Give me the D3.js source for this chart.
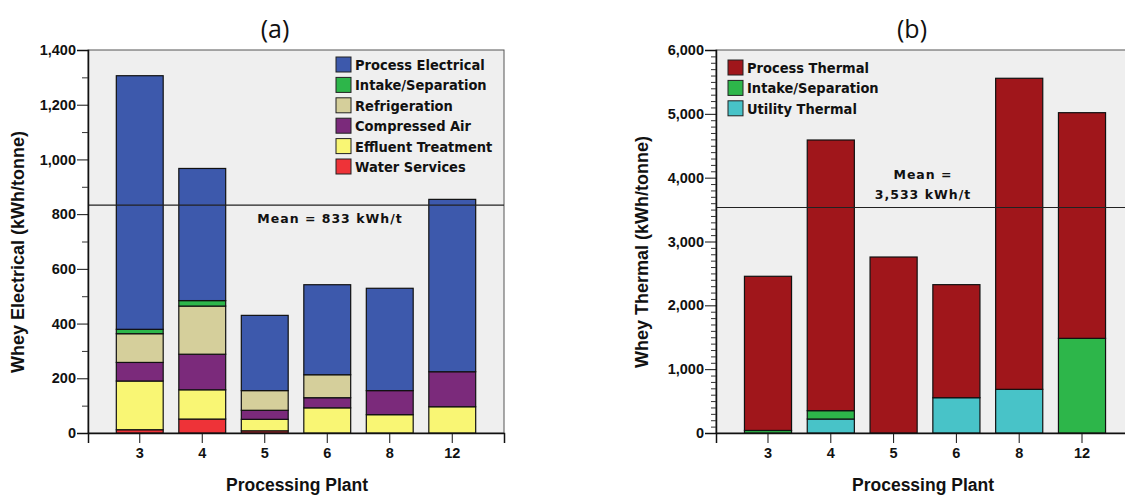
<!DOCTYPE html>
<html>
<head>
<meta charset="utf-8">
<script src="https://cdn.jsdelivr.net/npm/d3@7/dist/d3.min.js"></script>
<style>
  body { margin: 0; background: #fff; }
  svg { display: block; }
</style>
</head>
<body>
<svg id="chart" width="1125" height="495"></svg>
<script>
// plants on the x axis
const plants = ['3', '4', '5', '6', '8', '12'];

// (a) electrical, stacked bottom -> top
const elecKeys = ['Water Services', 'Effluent Treatment', 'Compressed Air', 'Refrigeration', 'Intake/Separation', 'Process Electrical'];
const elecColors = ['#ee3338', '#f9f674', '#7b2a7b', '#d5cf9b', '#2db64a', '#3d59ac'];
const waterServices     = [12, 51, 8, 0, 0, 0];
const effluentTreatment = [178, 107, 42, 92, 67, 96];
const compressedAir     = [68, 130, 33, 37, 88, 128];
const refrigeration     = [105, 176, 72, 84, 0, 0];
const intakeElec        = [16, 20, 0, 0, 0, 0];
const processElectrical = [927, 483, 275, 329, 374, 630];
const elecMean = 833;

// (b) thermal, stacked bottom -> top
const thermKeys = ['Utility Thermal', 'Intake/Separation', 'Process Thermal'];
const thermColors = ['#48c3c8', '#2db64a', '#a0161b'];
const utilityThermal = [0, 219, 0, 553, 684, 0];
const intakeTherm    = [40, 131, 0, 0, 0, 1483];
const processThermal = [2415, 4240, 2757, 1771, 4873, 3535];
const thermMean = 3533;

const ARIAL = '"Liberation Sans", Arial, Helvetica, sans-serif';
const TAHOMA = '"DejaVu Sans Condensed", "DejaVu Sans", sans-serif';

const svg = d3.select('#chart');

function buildRows(series, keys) {
  return plants.map((p, i) => {
    const row = { plant: p };
    keys.forEach((k, j) => { row[k] = series[j][i]; });
    return row;
  });
}

function styleTicks(sel) {
  sel.selectAll('.tick text')
    .style('font-family', ARIAL)
    .style('font-weight', 'bold')
    .style('font-size', '14.5px')
    .attr('fill', '#111');
}

function drawPanel(opts) {
  const { left, right, top, bottom, yMax, majorStep, minorStep, rows, keys, colors,
          legendOrder, legendX, legendY, title, titleX, yTitle, mean, meanLines, meanX, meanY } = opts;

  const g = svg.append('g');

  const x = d3.scaleBand()
    .domain(plants)
    .range([left, right])
    .paddingInner(0.25)
    .paddingOuter(0.453);

  const y = d3.scaleLinear().domain([0, yMax]).range([bottom, top]);

  // plot background
  g.append('rect')
    .attr('x', left).attr('y', top)
    .attr('width', right - left).attr('height', bottom - top)
    .attr('fill', '#efefef')
    .attr('stroke', '#555').attr('stroke-width', 1);

  // stacked bars
  const stacked = d3.stack().keys(keys)(rows);
  const color = d3.scaleOrdinal().domain(keys).range(colors);

  g.selectAll('g.layer')
    .data(stacked)
    .join('g')
    .attr('class', 'layer')
    .attr('fill', d => color(d.key))
    .selectAll('rect')
    .data(d => d.filter(s => s[1] - s[0] > 0))
    .join('rect')
    .attr('x', d => x(d.data.plant))
    .attr('width', x.bandwidth())
    .attr('y', d => y(d[1]))
    .attr('height', d => y(d[0]) - y(d[1]))
    .attr('stroke', '#111')
    .attr('stroke-width', 1.2);

  // mean line
  g.append('line')
    .attr('x1', left).attr('x2', right)
    .attr('y1', y(mean)).attr('y2', y(mean))
    .attr('stroke', '#222').attr('stroke-width', 1.2);

  g.append('text')
    .attr('x', meanX).attr('y', meanY)
    .attr('text-anchor', 'middle')
    .style('font-family', '"DejaVu Sans", Verdana, sans-serif')
    .style('font-weight', 'bold')
    .style('font-size', '12.5px')
    .style('letter-spacing', '1px')
    .attr('fill', '#111')
    .selectAll('tspan')
    .data(meanLines)
    .join('tspan')
    .attr('x', meanX)
    .attr('dy', (d, i) => i === 0 ? 0 : 20)
    .text(d => d);

  // y axis: major labelled ticks and minor ticks
  const yAxis = d3.axisLeft(y)
    .tickValues(d3.range(0, yMax + 1, majorStep))
    .tickFormat(d3.format(','))
    .tickSize(11)
    .tickPadding(1);
  const ya = g.append('g').attr('transform', `translate(${left},0)`).call(yAxis);
  ya.select('.domain').attr('stroke', '#111').attr('stroke-width', 1.5);
  ya.selectAll('.tick line').attr('stroke', '#111');
  styleTicks(ya);

  const minors = d3.range(0, yMax + 1, minorStep).filter(v => v % majorStep !== 0);
  g.append('g')
    .attr('transform', `translate(${left},0)`)
    .call(d3.axisLeft(y).tickValues(minors).tickFormat('').tickSize(majorStep === 1000 ? 5 : 6))
    .call(s => s.select('.domain').remove())
    .selectAll('.tick line').attr('stroke', '#333');

  // x axis
  const xa = g.append('g')
    .attr('transform', `translate(0,${bottom})`)
    .call(d3.axisBottom(x).tickSize(10).tickPadding(5));
  xa.select('.domain').attr('stroke', '#111').attr('stroke-width', 1.5);
  xa.selectAll('.tick line').attr('stroke', '#111');
  styleTicks(xa);

  // axis titles
  g.append('text')
    .attr('x', opts.xTitleX)
    .attr('y', 491)
    .attr('text-anchor', 'middle')
    .style('font-family', ARIAL)
    .style('font-weight', 'bold')
    .style('font-size', '17.5px')
    .attr('fill', '#111')
    .text('Processing Plant');

  g.append('text')
    .attr('transform', `translate(${opts.yTitleX},252) rotate(-90)`)
    .attr('text-anchor', 'middle')
    .style('font-family', ARIAL)
    .style('font-weight', 'bold')
    .style('font-size', '18px')
    .attr('fill', '#111')
    .text(yTitle);

  // panel title
  g.append('text')
    .attr('x', titleX).attr('y', 38)
    .attr('text-anchor', 'middle')
    .style('font-family', '"Open Sans", "Noto Sans", sans-serif')
    .style('font-size', '25px')
    .attr('fill', '#111')
    .text(title);

  // legend
  const lg = g.append('g').attr('transform', `translate(${legendX},${legendY})`);
  const items = lg.selectAll('g')
    .data(legendOrder)
    .join('g')
    .attr('transform', (d, i) => `translate(0,${i * 20.4})`);
  items.append('rect')
    .attr('width', 15).attr('height', 15)
    .attr('fill', d => color(d))
    .attr('stroke', '#222').attr('stroke-width', 1);
  items.append('text')
    .attr('x', 19).attr('y', 13)
    .style('font-family', TAHOMA)
    .style('font-weight', 'bold')
    .style('font-size', '14.5px')
    .attr('fill', '#111')
    .text(d => d);
}

drawPanel({
  left: 88, right: 504, top: 50, bottom: 433,
  yMax: 1400, majorStep: 200, minorStep: 100,
  rows: buildRows([waterServices, effluentTreatment, compressedAir, refrigeration, intakeElec, processElectrical], elecKeys),
  keys: elecKeys, colors: elecColors,
  legendOrder: elecKeys.slice().reverse(),
  legendX: 336, legendY: 57,
  title: '(a)', titleX: 275,
  xTitleX: 297,
  yTitle: 'Whey Electrical (kWh/tonne)', yTitleX: 24,
  mean: elecMean, meanLines: ['Mean = 833 kWh/t'], meanX: 330, meanY: 223
});

drawPanel({
  left: 716, right: 1134, top: 50, bottom: 433,
  yMax: 6000, majorStep: 1000, minorStep: 100,
  rows: buildRows([utilityThermal, intakeTherm, processThermal], thermKeys),
  keys: thermKeys, colors: thermColors,
  legendOrder: thermKeys.slice().reverse(),
  legendX: 728, legendY: 60,
  title: '(b)', titleX: 912,
  xTitleX: 923,
  yTitle: 'Whey Thermal (kWh/tonne)', yTitleX: 648,
  mean: thermMean, meanLines: ['Mean =', '3,533 kWh/t'], meanX: 923, meanY: 179
});
</script>
</body>
</html>
